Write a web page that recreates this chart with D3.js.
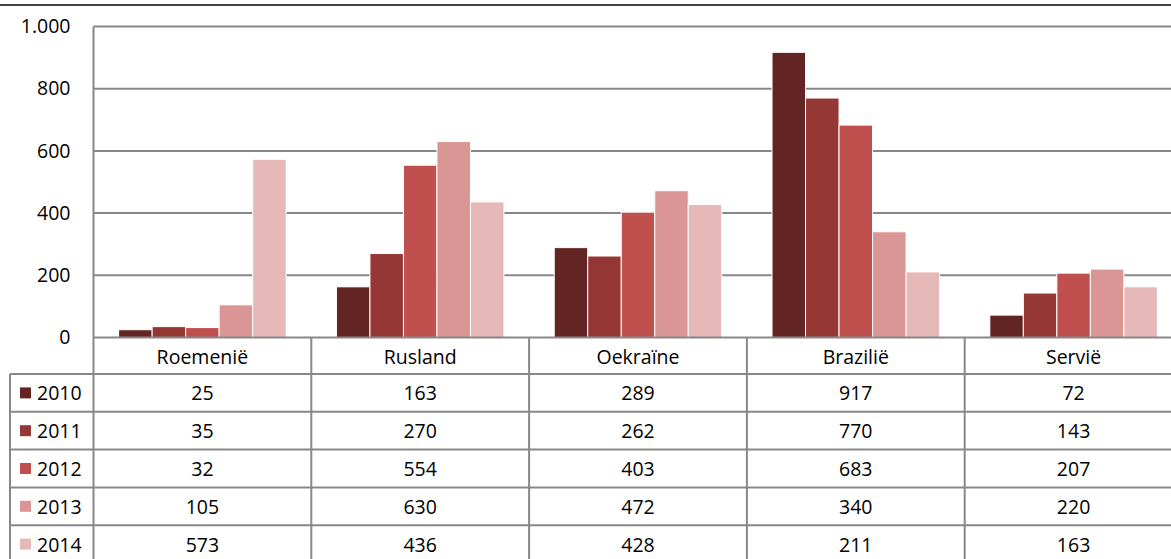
<!DOCTYPE html>
<html>
<head>
<meta charset="utf-8">
<script src="https://cdn.jsdelivr.net/npm/d3@7"></script>
<style>
  body { margin: 0; background: #fff; }
  text { font-family: "Open Sans", "Liberation Sans", sans-serif; fill: #000; }
</style>
</head>
<body>
<div id="chart"></div>
<script>
var categories = ["Roemenië", "Rusland", "Oekraïne", "Brazilië", "Servië"]
var years = ["2010", "2011", "2012", "2013", "2014"]
var values2010 = [25, 163, 289, 917, 72]
var values2011 = [35, 270, 262, 770, 143]
var values2012 = [32, 554, 403, 683, 207]
var values2013 = [105, 630, 472, 340, 220]
var values2014 = [573, 436, 428, 211, 163]
var yTicks = [0, 200, 400, 600, 800, 1000]
var colors = ["#632523", "#953735", "#c0504d", "#d99694", "#e6b9b8"]

var series = [values2010, values2011, values2012, values2013, values2014]

var width = 1171, height = 559
var fontSize = 19.5
var gridColor = "#888"

let svg = d3.select("#chart").append("svg")
    .attr("width", width)
    .attr("height", height)

// chart frame top edge
svg.append("line")
    .attr("x1", 0).attr("x2", width)
    .attr("y1", 5).attr("y2", 5)
    .attr("stroke", "#000").attr("stroke-width", 1.5)

let x = d3.scaleBand()
    .domain(categories)
    .range([93.5, 1182.5])

let y = d3.scaleLinear()
    .domain([0, 1000])
    .range([337.5, 26.5])

let barW = x.bandwidth() / 6.5
let inner = d3.scaleBand()
    .domain(years)
    .range([0.75 * barW, 5.75 * barW])

let nl = d3.formatLocale({ decimal: ",", thousands: ".", grouping: [3], currency: ["€", ""] })

// gridlines
svg.append("g")
    .selectAll("line")
    .data(yTicks.filter(d => d > 0))
    .enter()
    .append("line")
    .attr("x1", 93.5).attr("x2", width)
    .attr("y1", d => y(d)).attr("y2", d => y(d))
    .attr("stroke", gridColor).attr("stroke-width", 2)

// y axis labels
let yAxis = svg.append("g")
    .attr("transform", "translate(93.5,0)")
    .call(d3.axisLeft(y).tickValues(yTicks).tickSize(0).tickPadding(23).tickFormat(nl.format(",")))
yAxis.select(".domain").remove()
yAxis.selectAll("text")
    .style("font-size", fontSize + "px")
    .style("font-family", "'Open Sans', 'Liberation Sans', sans-serif")
    .attr("fill", "#000")

// bars
years.forEach(function(yr, i) {
    svg.append("g")
        .selectAll("rect")
        .data(series[i])
        .enter()
        .append("rect")
        .attr("x", (d, j) => x(categories[j]) + inner(yr))
        .attr("y", d => y(d))
        .attr("width", inner.bandwidth())
        .attr("height", d => y(0) - y(d))
        .attr("fill", colors[i])
        .attr("stroke", "#fff")
        .attr("stroke-width", 1)
})

// data table
let headerBottom = 374
let rowH = 37.8
let tableBottom = height

let table = svg.append("g")

// horizontal lines
table.append("line")
    .attr("x1", 93.5).attr("x2", width)
    .attr("y1", y(0)).attr("y2", y(0))
    .attr("stroke", gridColor).attr("stroke-width", 2)
years.forEach(function(yr, i) {
    table.append("line")
        .attr("x1", 10).attr("x2", width)
        .attr("y1", headerBottom + rowH * i).attr("y2", headerBottom + rowH * i)
        .attr("stroke", gridColor).attr("stroke-width", 2)
})

// vertical lines
table.append("line")
    .attr("x1", 93.5).attr("x2", 93.5)
    .attr("y1", y(1000)).attr("y2", tableBottom)
    .attr("stroke", gridColor).attr("stroke-width", 2)
table.append("line")
    .attr("x1", 10).attr("x2", 10)
    .attr("y1", headerBottom).attr("y2", tableBottom)
    .attr("stroke", gridColor).attr("stroke-width", 2)
categories.slice(1).forEach(function(c) {
    table.append("line")
        .attr("x1", x(c)).attr("x2", x(c))
        .attr("y1", y(0)).attr("y2", tableBottom)
        .attr("stroke", gridColor).attr("stroke-width", 2)
})

// category header
table.selectAll("text.cat")
    .data(categories)
    .enter()
    .append("text")
    .attr("class", "cat")
    .attr("x", d => x(d) + x.bandwidth() / 2)
    .attr("y", (y(0) + headerBottom) / 2 + 1)
    .attr("text-anchor", "middle")
    .attr("dominant-baseline", "central")
    .style("font-size", fontSize + "px")
    .text(d => d)

// rows
years.forEach(function(yr, i) {
    let cy = headerBottom + rowH * i + rowH / 2
    table.append("rect")
        .attr("x", 20).attr("y", cy - 5.5)
        .attr("width", 11).attr("height", 11)
        .attr("fill", colors[i])
    table.append("text")
        .attr("x", 37).attr("y", cy)
        .attr("dominant-baseline", "central")
        .style("font-size", fontSize + "px")
        .text(yr)
    table.selectAll("text.v" + i)
        .data(series[i])
        .enter()
        .append("text")
        .attr("class", "v" + i)
        .attr("x", (d, j) => x(categories[j]) + x.bandwidth() / 2)
        .attr("y", cy)
        .attr("text-anchor", "middle")
        .attr("dominant-baseline", "central")
        .style("font-size", fontSize + "px")
        .text(d => d)
})
</script>
</body>
</html>
